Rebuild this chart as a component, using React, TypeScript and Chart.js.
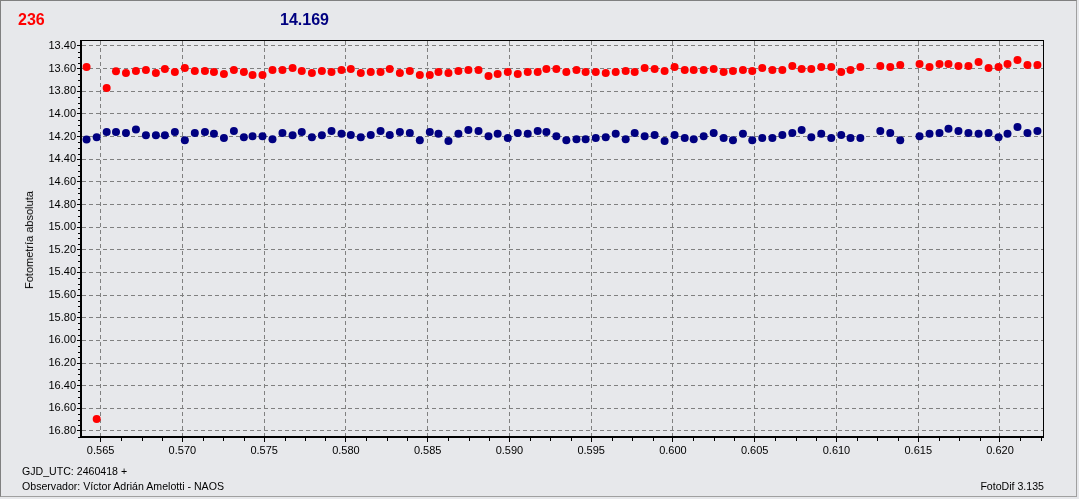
import React, { useEffect, useRef } from "react";
import { Chart, registerables } from "chart.js";

Chart.register(...registerables);

const TITLE_VAR = "236";
const TITLE_COMP = "14.169";
const Y_TITLE = "Fotometría absoluta";
const FOOT_1 = "GJD_UTC: 2460418 +";
const FOOT_2 = "Observador: Víctor Adrián Amelotti - NAOS";
const FOOT_RIGHT = "FotoDif 3.135";

const X_TICKS = [0.565, 0.57, 0.575, 0.58, 0.585, 0.59, 0.595, 0.6, 0.605, 0.61, 0.615, 0.62];
const Y_TICKS = [13.4, 13.6, 13.8, 14.0, 14.2, 14.4, 14.6, 14.8, 15.0, 15.2, 15.4, 15.6, 15.8, 16.0, 16.2, 16.4, 16.6, 16.8];

const TIME = [
  0.56414, 0.56476, 0.56537, 0.56594, 0.56655, 0.56716, 0.56777, 0.56838, 0.56893, 0.56954,
  0.57015, 0.57076, 0.57138, 0.57193, 0.57254, 0.57315, 0.57376, 0.57429, 0.5749, 0.57551,
  0.57612, 0.57674, 0.5773, 0.57792, 0.57853, 0.57912, 0.57973, 0.5803, 0.58091, 0.58152,
  0.58212, 0.58268, 0.5833, 0.58391, 0.58452, 0.58513, 0.58566, 0.58627, 0.58688, 0.58749,
  0.58811, 0.58872, 0.58928, 0.5899, 0.59051, 0.59112, 0.59173, 0.59226, 0.59287, 0.59348,
  0.5941, 0.59466, 0.59528, 0.59589, 0.5965, 0.59711, 0.59766, 0.59827, 0.59888, 0.59949,
  0.6001, 0.60072, 0.60127, 0.60188, 0.60249, 0.6031, 0.60367, 0.60428, 0.60485, 0.60546,
  0.60608, 0.60669, 0.6073, 0.60787, 0.60846, 0.60907, 0.60968, 0.61029, 0.61086, 0.61146,
  0.61268, 0.61329, 0.6139, 0.61508, 0.61569, 0.6163, 0.61685, 0.61746, 0.61807, 0.61869,
  0.6193, 0.61991, 0.62046, 0.62107, 0.62168, 0.62229,
];

const MAG_VAR = [
  13.585, 16.694, 13.771, 13.623, 13.638, 13.621, 13.612, 13.638, 13.603, 13.629,
  13.594, 13.621, 13.621, 13.629, 13.647, 13.612, 13.629, 13.656, 13.656, 13.612,
  13.612, 13.594, 13.621, 13.638, 13.621, 13.629, 13.612, 13.603, 13.638, 13.629,
  13.629, 13.603, 13.638, 13.621, 13.656, 13.656, 13.629, 13.638, 13.621, 13.612,
  13.612, 13.665, 13.647, 13.629, 13.647, 13.629, 13.629, 13.603, 13.603, 13.629,
  13.612, 13.629, 13.629, 13.638, 13.629, 13.621, 13.629, 13.594, 13.603, 13.621,
  13.585, 13.612, 13.612, 13.612, 13.603, 13.629, 13.621, 13.612, 13.621, 13.594,
  13.612, 13.612, 13.576, 13.603, 13.603, 13.585, 13.585, 13.629, 13.612, 13.585,
  13.576, 13.585, 13.568, 13.559, 13.585, 13.559, 13.559, 13.576, 13.576, 13.541,
  13.594, 13.585, 13.559, 13.524, 13.568, 13.568,
];

const MAG_COMP = [
  14.226, 14.206, 14.159, 14.159, 14.168, 14.138, 14.188, 14.188, 14.188, 14.159,
  14.232, 14.168, 14.159, 14.176, 14.212, 14.15, 14.206, 14.197, 14.197, 14.223,
  14.168, 14.188, 14.159, 14.206, 14.188, 14.15, 14.176, 14.185, 14.206, 14.185,
  14.15, 14.185, 14.159, 14.168, 14.232, 14.159, 14.176, 14.238, 14.176, 14.141,
  14.15, 14.197, 14.176, 14.212, 14.168, 14.176, 14.15, 14.159, 14.197, 14.232,
  14.223, 14.223, 14.212, 14.206, 14.176, 14.223, 14.168, 14.197, 14.185, 14.238,
  14.185, 14.212, 14.223, 14.197, 14.168, 14.212, 14.232, 14.176, 14.232, 14.212,
  14.212, 14.185, 14.168, 14.141, 14.206, 14.176, 14.212, 14.185, 14.212, 14.212,
  14.15, 14.168, 14.232, 14.197, 14.176, 14.168, 14.132, 14.15, 14.168, 14.176,
  14.168, 14.206, 14.176, 14.115, 14.168, 14.15,
];

const X_MIN = 0.5638;
const X_MAX = 0.62263;
const Y_MIN = 13.356;
const Y_MAX = 16.853;

const BG = "rgb(231,232,235)";
const FONT = "'Liberation Sans', Arial, sans-serif";

const framePlugin = {
  id: "frame",
  afterDraw(chart: any) {
    const { ctx, chartArea: a, scales } = chart;
    ctx.save();
    ctx.strokeStyle = "#000";
    ctx.lineWidth = 1;
    ctx.beginPath();
    ctx.moveTo(a.left, a.top - 0.5);
    ctx.lineTo(a.right + 1, a.top - 0.5);
    ctx.moveTo(a.right + 0.5, a.top - 1);
    ctx.lineTo(a.right + 0.5, a.bottom);
    ctx.stroke();
    // minor ticks on x
    const xs = scales.x;
    const xStep = (X_TICKS[1] - X_TICKS[0]) / 4;
    ctx.beginPath();
    for (let i = -4; i <= (X_TICKS.length - 1) * 4 + 4; i++) {
      if (i % 4 === 0) continue;
      const v = X_TICKS[0] + i * xStep;
      if (v < X_MIN || v > X_MAX) continue;
      const px = Math.round(xs.getPixelForValue(v)) + 0.5;
      ctx.moveTo(px, a.bottom);
      ctx.lineTo(px, a.bottom + 4);
    }
    const ys = scales.y;
    const yStep = (Y_TICKS[1] - Y_TICKS[0]) / 4;
    for (let i = -4; i <= (Y_TICKS.length - 1) * 4 + 4; i++) {
      if (i % 4 === 0) continue;
      const v = Y_TICKS[0] + i * yStep;
      if (v < Y_MIN || v > Y_MAX) continue;
      const py = Math.round(ys.getPixelForValue(v)) + 0.5;
      ctx.moveTo(a.left - 3, py);
      ctx.lineTo(a.left, py);
    }
    ctx.stroke();
    ctx.restore();
  },
};

export default function App() {
  const ref = useRef<HTMLCanvasElement | null>(null);

  useEffect(() => {
    document.body.style.margin = "0";
    document.body.style.background = BG;
    const canvas = ref.current;
    if (!canvas) return;
    const chart = new Chart(canvas, {
      type: "scatter",
      data: {
        datasets: [
          {
            label: TITLE_VAR,
            data: TIME.map((t, i) => ({ x: t, y: MAG_VAR[i] })),
            backgroundColor: "#ff0000",
            borderColor: "#ff0000",
            borderWidth: 0,
            pointRadius: 4,
          },
          {
            label: TITLE_COMP,
            data: TIME.map((t, i) => ({ x: t, y: MAG_COMP[i] })),
            backgroundColor: "#000080",
            borderColor: "#000080",
            borderWidth: 0,
            pointRadius: 4,
          },
        ],
      },
      options: {
        animation: false,
        responsive: false,
        maintainAspectRatio: false,
        layout: { padding: { left: 0, top: 41, right: 36, bottom: 0 } },
        plugins: {
          legend: { display: false },
          tooltip: { enabled: false },
          title: { display: false },
        },
        font: { family: FONT, size: 11 },
        scales: {
          x: {
            type: "linear",
            position: "bottom",
            min: X_MIN,
            max: X_MAX,
            afterBuildTicks: (s: any) => {
              s.ticks = X_TICKS.map((v) => ({ value: v }));
            },
            afterFit: (s: any) => {
              s.height = 62;
            },
            ticks: {
              autoSkip: false,
              maxRotation: 0,
              minRotation: 0,
              padding: 2,
              color: "#000",
              font: { family: FONT, size: 11 },
              callback: (v: any) => Number(v).toFixed(3),
            },
            grid: {
              color: "#808080",
              lineWidth: 1,
              tickColor: "#000",
              tickLength: 5,
              drawTicks: true,
            },
            border: { display: true, color: "#000", width: 2, dash: [4, 3] },
          },
          y: {
            type: "linear",
            position: "left",
            reverse: true,
            min: Y_MIN,
            max: Y_MAX,
            afterBuildTicks: (s: any) => {
              s.ticks = Y_TICKS.map((v) => ({ value: v }));
            },
            afterFit: (s: any) => {
              s.width = 81;
            },
            ticks: {
              autoSkip: false,
              padding: 1,
              color: "#000",
              font: { family: FONT, size: 11 },
              callback: (v: any) => Number(v).toFixed(2),
            },
            grid: {
              color: "#808080",
              lineWidth: 1,
              tickColor: "#000",
              tickLength: 4,
              drawTicks: true,
            },
            border: { display: true, color: "#000", width: 2, dash: [4, 3] },
          },
        },
      },
      plugins: [framePlugin],
    } as any);
    return () => chart.destroy();
  }, []);

  const txt: React.CSSProperties = {
    position: "absolute",
    fontFamily: FONT,
    whiteSpace: "nowrap",
    color: "#000",
  };

  return (
    <div style={{ position: "relative", width: 1079, height: 499, background: BG, overflow: "hidden" }}>
      <div
        style={{
          position: "absolute",
          left: 0,
          top: 0,
          width: 1077,
          height: 497,
          boxSizing: "border-box",
          border: "1px solid #a0a0a0",
          borderLeftColor: "#808080",
          borderTopColor: "#808080",
        }}
      />
      <canvas ref={ref} width={1079} height={499} style={{ position: "absolute", left: 0, top: 0, width: 1079, height: 499 }} />
      <div style={{ ...txt, left: 18, top: 12, fontSize: 16, lineHeight: "16px", fontWeight: "bold", color: "#ff0000" }}>{TITLE_VAR}</div>
      <div style={{ ...txt, left: 280, top: 12, fontSize: 16, lineHeight: "16px", fontWeight: "bold", color: "#000080" }}>{TITLE_COMP}</div>
      <div
        style={{
          ...txt,
          left: 29,
          top: 240,
          fontSize: 11,
          lineHeight: "12px",
          transform: "translate(-50%, -50%) rotate(-90deg)",
        }}
      >
        {Y_TITLE}
      </div>
      <div style={{ ...txt, left: 22, top: 465, fontSize: 10.6, lineHeight: "12px" }}>{FOOT_1}</div>
      <div style={{ ...txt, left: 22, top: 480, fontSize: 10.6, lineHeight: "12px" }}>{FOOT_2}</div>
      <div style={{ ...txt, right: 35, top: 480, fontSize: 10.6, lineHeight: "12px" }}>{FOOT_RIGHT}</div>
    </div>
  );
}
